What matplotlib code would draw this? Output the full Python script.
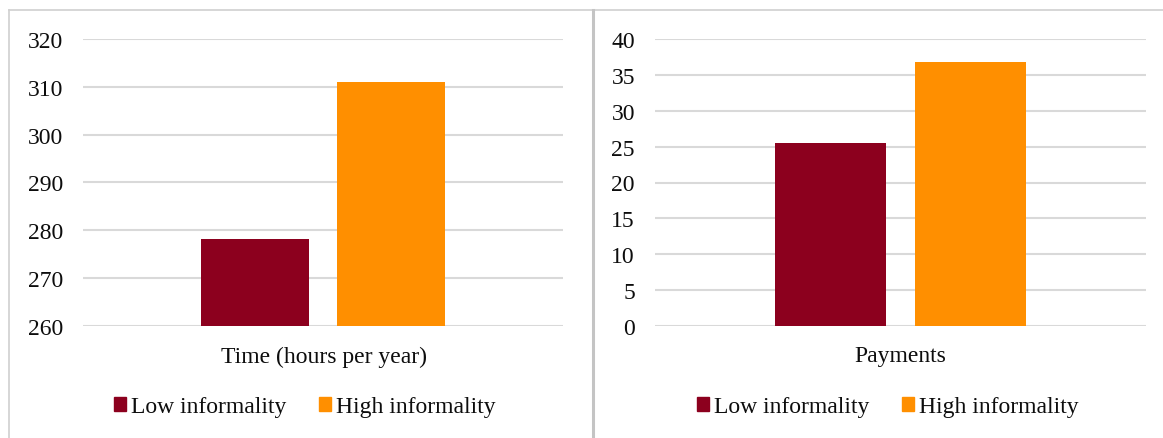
import numpy as np
import matplotlib.pyplot as plt
import matplotlib.patches as mpatches
from matplotlib.lines import Line2D

# Données
series = ["Low informality", "High informality"]
colors = ["#8C001E", "#FF8F00"]

time_cat = "Time (hours per year)"
time_vals = [278.2, 311.0]
time_ticks = [260, 270, 280, 290, 300, 310, 320]

pay_cat = "Payments"
pay_vals = [25.5, 36.8]
pay_ticks = [0, 5, 10, 15, 20, 25, 30, 35, 40]

W, H = 1163, 439
TXT = "#0d0d0d"
plt.rcParams["font.family"] = ["Liberation Serif", "DejaVu Serif"]
fig = plt.figure(figsize=(W / 100, H / 100), dpi=100, facecolor="white")

def px_axes(x0, y0, x1, y1):
    return fig.add_axes([x0 / W, 1 - y1 / H, (x1 - x0) / W, (y1 - y0) / H])

def panel(ax, cat, vals, ticks, cx):
    offs = [-0.1425, 0.1425]
    for v, o, c in zip(vals, offs, colors):
        ax.bar(o, v - ticks[0], bottom=ticks[0], width=0.225, color=c, zorder=3)
    ax.set_xlim(-0.5, 0.5)
    ax.set_ylim(ticks[0], ticks[-1])
    ax.set_yticks(ticks)
    ax.set_xticks([])
    for s in ax.spines.values():
        s.set_visible(False)
    ax.grid(axis="y", color="#D9D9D9", linewidth=1.5, zorder=0)
    ax.tick_params(axis="y", length=0, pad=14.4, labelsize=17, labelcolor=TXT)
    ax.set_axisbelow(True)
    fig.text(cx / W, 1 - 357 / H, cat, ha="center", va="center",
             fontsize=17, color=TXT)

ax1 = px_axes(83, 40, 563, 327)
panel(ax1, time_cat, time_vals, time_ticks, 324)
ax2 = px_axes(655, 40, 1146, 327)
panel(ax2, pay_cat, pay_vals, pay_ticks, 900)

handles = [mpatches.Patch(color=c, label=s) for s, c in zip(series, colors)]
for cx in (305, 888):
    fig.legend(handles=handles, loc="center", bbox_to_anchor=(cx / W, 1 - 408 / H),
               ncol=2, frameon=False, fontsize=17, handlelength=0.51,
               handleheight=0.51, handletextpad=0.22, columnspacing=1.36,
               labelcolor=TXT)

# cadres des panneaux
fig.add_artist(Line2D([9 / W, 1], [1 - 10.5 / H] * 2, color="#D0D0D0", lw=1.2,
                      transform=fig.transFigure))
fig.add_artist(Line2D([9 / W] * 2, [0, 1 - 10.5 / H], color="#D0D0D0", lw=1.2,
                      transform=fig.transFigure))
fig.add_artist(Line2D([593 / W] * 2, [0, 1 - 10.5 / H], color="#C4C4C4", lw=2.2,
                      transform=fig.transFigure))

fig.savefig("out.png", dpi=100, facecolor="white")
